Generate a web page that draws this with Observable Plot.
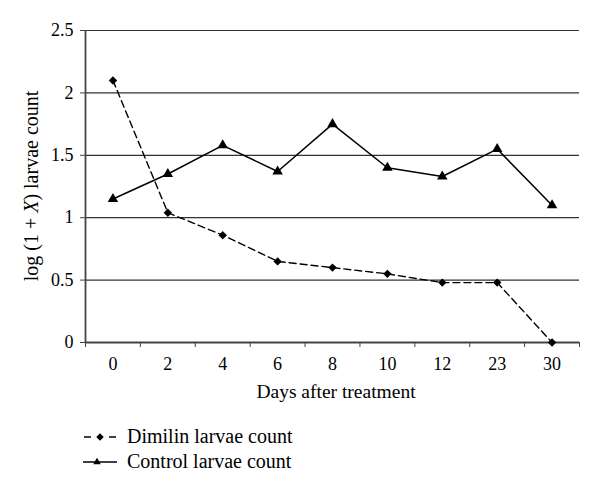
<!DOCTYPE html>
<html>
<head>
<meta charset="utf-8">
<script src="https://cdn.jsdelivr.net/npm/d3@7"></script>
<script src="https://cdn.jsdelivr.net/npm/@observablehq/plot@0.6"></script>
<style>
  html, body { margin: 0; padding: 0; background: #fff; }
  #wrap { position: relative; width: 600px; height: 493px; font-family: "Liberation Serif", "DejaVu Serif", serif; color: #000; }
  #legend { position: absolute; left: 82px; top: 424px; font-size: 20px; line-height: 25px; }
  .item { display: flex; align-items: center; height: 25px; }
  .item svg { margin-right: 9px; }
</style>
</head>
<body>
<div id="wrap">
  <div id="chart"></div>
  <div id="legend"></div>
</div>
<script>
// ---- data ----
const days = ["0", "2", "4", "6", "8", "10", "12", "23", "30"];
const dimilin = [2.10, 1.04, 0.86, 0.65, 0.60, 0.55, 0.48, 0.48, 0.00];
const control = [1.15, 1.35, 1.58, 1.37, 1.75, 1.40, 1.33, 1.55, 1.10];
const yTicks = [0, 0.5, 1, 1.5, 2, 2.5];
const seriesNames = ["Dimilin larvae count", "Control larvae count"];
const xTitle = "Days after treatment";

const dimRows = days.map((d, i) => ({i, day: d, v: dimilin[i]}));
const ctrlRows = days.map((d, i) => ({i, day: d, v: control[i]}));
const bounds = d3.range(days.length + 1).map(k => k - 0.5);

const fontFamily = '"Liberation Serif", "DejaVu Serif", serif';

const plot = Plot.plot({
  width: 600,
  height: 410,
  marginLeft: 85,
  marginRight: 21,
  marginTop: 30,
  marginBottom: 68,
  style: {fontFamily, fontSize: "18px", color: "#000", background: "#fff", overflow: "visible"},
  x: {type: "linear", domain: [-0.5, days.length - 0.5]},
  y: {type: "linear", domain: [0, 2.5]},
  marks: [
    Plot.ruleY(yTicks.slice(1), {stroke: "#333", strokeWidth: 1.2}),
    Plot.ruleY([0], {stroke: "#444", strokeWidth: 1.8}),
    Plot.ruleX([-0.5], {stroke: "#444", strokeWidth: 1.8}),
    Plot.axisY({ticks: yTicks, tickSize: 5, tickPadding: 7, tickFormat: d => String(d), label: null, stroke: "#444"}),
    Plot.axisX({ticks: bounds, tickSize: 5, tickFormat: () => "", label: null, stroke: "#444"}),
    Plot.axisX({ticks: d3.range(days.length), tickSize: 0, tickPadding: 15, tickFormat: i => days[i], label: null}),
    Plot.line(dimRows, {x: "i", y: "v", stroke: "#000", strokeWidth: 1.4, strokeDasharray: "7,4"}),
    Plot.line(ctrlRows, {x: "i", y: "v", stroke: "#000", strokeWidth: 1.5}),
    Plot.dot(dimRows, {x: "i", y: "v", symbol: "diamond2", fill: "#000", r: 3.8}),
    Plot.dot(ctrlRows, {x: "i", y: "v", symbol: "triangle", fill: "#000", r: 3.9})
  ]
});
document.getElementById("chart").appendChild(plot);

// axis titles
const svg = d3.select(plot);
const yt = svg.append("text")
  .attr("transform", "translate(38,186) rotate(-90)")
  .attr("text-anchor", "middle")
  .style("font-family", fontFamily)
  .style("font-size", "20px")
  .attr("fill", "#000");
yt.append("tspan").text("log (1 + ");
yt.append("tspan").style("font-style", "italic").text("X");
yt.append("tspan").text(") larvae count");

svg.append("text")
  .attr("x", 336).attr("y", 398)
  .attr("text-anchor", "middle")
  .style("font-family", fontFamily)
  .style("font-size", "19.5px")
  .attr("fill", "#000")
  .text(xTitle);

// legend
const legend = d3.select("#legend");
const styles = [
  {segs: [[2, 9], [27, 34]], sym: d3.symbolDiamond2, size: 36, cx: 18},
  {segs: [[1, 35]], sym: d3.symbolTriangle2, size: 40, cx: 15}
];
seriesNames.forEach((name, k) => {
  const it = legend.append("div").attr("class", "item");
  const s = it.append("svg").attr("width", 36).attr("height", 20);
  styles[k].segs.forEach(([a, b]) => {
    s.append("line").attr("x1", a).attr("x2", b).attr("y1", 10).attr("y2", 10)
      .attr("stroke", "#000").attr("stroke-width", 1.5);
  });
  s.append("path").attr("transform", `translate(${styles[k].cx},10)`)
    .attr("d", d3.symbol(styles[k].sym, styles[k].size)()).attr("fill", "#000");
  it.append("span").text(name);
});
</script>
</body>
</html>
